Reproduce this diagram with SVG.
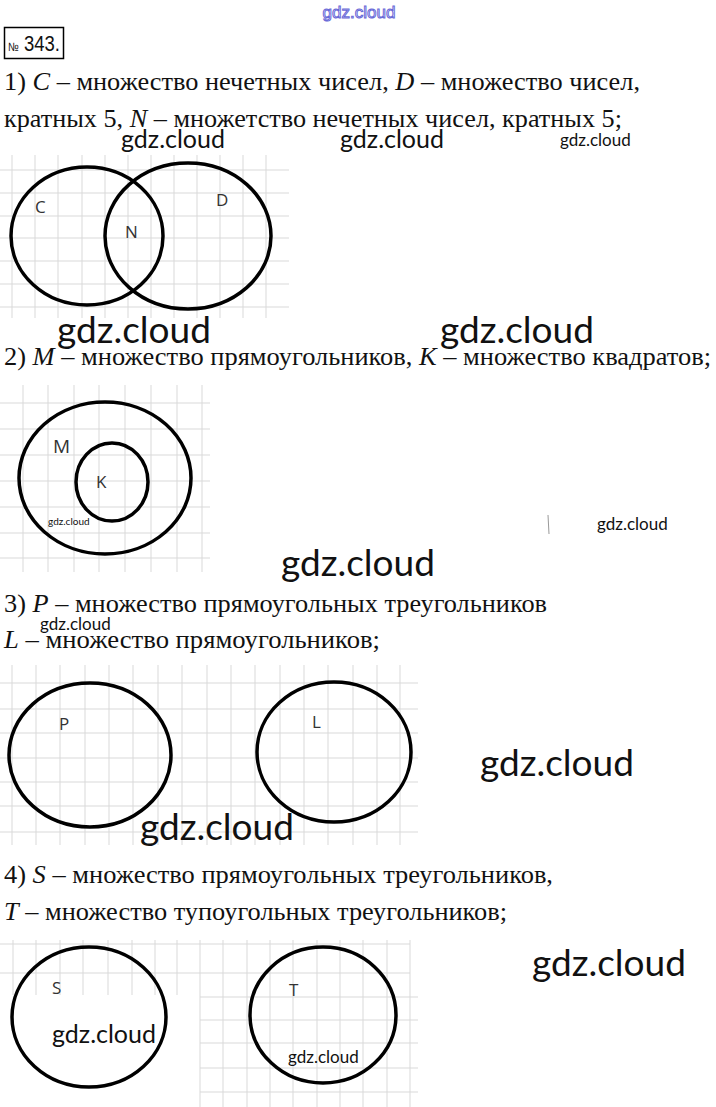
<svg xmlns="http://www.w3.org/2000/svg" width="716" height="1107" viewBox="0 0 716 1107">
<style>
.bg{fill:#ffffff}
.grid{stroke:#d9d9d9;stroke-width:1;fill:none}
.set{fill:none;stroke:#000;stroke-width:3.5}
.lbl{font-family:"Open Sans","Liberation Sans",sans-serif;font-size:17px;fill:#333}
.txt{font-family:"Liberation Serif","Times New Roman",serif;font-size:25px;fill:#111}
.it{font-style:italic}
.wm{font-family:Lato,"Open Sans",sans-serif;fill:#111}
.wmL{font-size:37px}
.wmM{font-size:25px}
.wmS{font-size:17px}
</style>
<rect class="bg" x="0" y="0" width="716" height="1107"/>

<text x="359" y="18" text-anchor="middle" style="font-family:'Liberation Sans',sans-serif;font-size:17px;fill:#fff;stroke:#6a6ad8;stroke-width:1">gdz.cloud</text>

<g id="title">
<rect x="4.5" y="27.5" width="59" height="31" fill="none" stroke="#000" stroke-width="1.5"/>
<text x="8" y="51" textLength="52" lengthAdjust="spacingAndGlyphs" style="font-family:'Liberation Sans',sans-serif;font-size:22px;fill:#111"><tspan font-size="12">№</tspan> 343.</text>
</g>

<g id="text1">
<text class="txt" x="4" y="90" textLength="636" lengthAdjust="spacingAndGlyphs">1) <tspan class="it">C</tspan> – множество нечетных чисел, <tspan class="it">D</tspan> – множество чисел,</text>
<text class="txt" x="4" y="127" textLength="618" lengthAdjust="spacingAndGlyphs">кратных 5, <tspan class="it">N</tspan> – множетство нечетных чисел, кратных 5;</text>
</g>

<g id="grid1">
<path class="grid" d="M12 155V318M35 155V318M58 155V318M82 155V318M105 155V318M128 155V318M151 155V318M174 155V318M197 155V318M220 155V318M243 155V318M266 155V318M0 170H289M0 193H289M0 216H289M0 238H289M0 261H289M0 284H289M0 307H289"/>
</g>
<g id="set-C"><ellipse class="set" cx="87" cy="236" rx="76" ry="69"/><text class="lbl" x="35" y="213">C</text></g>
<g id="set-D"><ellipse class="set" cx="188" cy="236" rx="83" ry="73"/><text class="lbl" x="216" y="206">D</text></g>
<g id="set-N"><text class="lbl" x="125" y="238">N</text></g>

<text class="wm wmM" x="121" y="148">gdz.cloud</text>
<text class="wm wmM" x="340" y="148">gdz.cloud</text>
<text class="wm wmS" x="560" y="146">gdz.cloud</text>
<text class="wm wmL" x="57" y="343">gdz.cloud</text>
<text class="wm wmL" x="440" y="343">gdz.cloud</text>

<g id="text2">
<text class="txt" x="4" y="365" textLength="707" lengthAdjust="spacingAndGlyphs">2) <tspan class="it">M</tspan> – множество прямоугольников, <tspan class="it">K</tspan> – множество квадратов;</text>
</g>

<g id="grid2">
<path class="grid" d="M23 385V572M48 385V572M74 385V572M99 385V572M125 385V572M151 385V572M177 385V572M202 385V572M0 403H210M0 429H210M0 455H210M0 481H210M0 507H210M0 533H210M0 558H210"/>
</g>
<g id="set-M"><ellipse class="set" cx="105" cy="478" rx="86" ry="76"/><text class="lbl" x="53" y="453" style="font-size:19px">M</text></g>
<g id="set-K"><ellipse class="set" cx="112" cy="482" rx="36" ry="39"/><text class="lbl" x="96" y="488">K</text></g>
<text class="wm" x="48" y="525" style="font-size:10px">gdz.cloud</text>

<line x1="548" y1="515" x2="549" y2="534" stroke="#999" stroke-width="1"/>
<text class="wm wmS" x="597" y="530">gdz.cloud</text>
<text class="wm wmL" x="281" y="576">gdz.cloud</text>

<g id="text3">
<text class="txt" x="4" y="612" textLength="543" lengthAdjust="spacingAndGlyphs">3) <tspan class="it">P</tspan> – множество прямоугольных треугольников</text>
<text class="wm wmS" x="40" y="630">gdz.cloud</text>
<text class="txt" x="4" y="648" textLength="376" lengthAdjust="spacingAndGlyphs"><tspan class="it">L</tspan> – множество прямоугольников;</text>
</g>

<g id="grid3">
<path class="grid" d="M12 665V845M36 665V845M60 665V845M85 665V845M109 665V845M133 665V845M158 665V845M182 665V845M207 665V845M231 665V845M255 665V845M280 665V845M304 665V845M328 665V845M353 665V845M377 665V845M400 665V845M0 683H418M0 709H418M0 733H418M0 758H418M0 782H418M0 806H418M0 832H418"/>
</g>
<g id="set-P"><ellipse class="set" cx="90" cy="755" rx="81" ry="72"/><text class="lbl" x="59" y="730">P</text></g>
<g id="set-L"><ellipse class="set" cx="334" cy="752" rx="77" ry="70"/><text class="lbl" x="312" y="728">L</text></g>
<text class="wm wmL" x="480" y="776">gdz.cloud</text>
<text class="wm wmL" x="140" y="840">gdz.cloud</text>

<g id="text4">
<text class="txt" x="4" y="883" textLength="549" lengthAdjust="spacingAndGlyphs">4) <tspan class="it">S</tspan> – множество прямоугольных треугольников,</text>
<text class="txt" x="4" y="920" textLength="503" lengthAdjust="spacingAndGlyphs"><tspan class="it">T</tspan> – множество тупоугольных треугольников;</text>
</g>

<g id="grid4">
<path class="grid" d="M13 940V995M36 940V995M60 940V995M83 940V995M108 940V995M132 940V995M155 940V995M177 940V995M0 944H410M0 973H410M200 940V1107M223 940V1107M247 940V1107M270 940V1107M293 940V1107M317 940V1107M340 940V1107M363 940V1107M387 940V1107M410 940V1107M200 997H418M200 1020H418M200 1043H418M200 1068H418M200 1092H418"/>
</g>
<g id="set-S"><ellipse class="set" cx="89" cy="1017" rx="77" ry="70"/><text class="lbl" x="52" y="994">S</text></g>
<g id="set-T"><ellipse class="set" cx="323" cy="1015" rx="73" ry="68"/><text class="lbl" x="289" y="996">T</text></g>
<text class="wm wmL" x="532" y="976">gdz.cloud</text>
<text class="wm wmM" x="52" y="1043">gdz.cloud</text>
<text class="wm wmS" x="288" y="1063">gdz.cloud</text>
</svg>
